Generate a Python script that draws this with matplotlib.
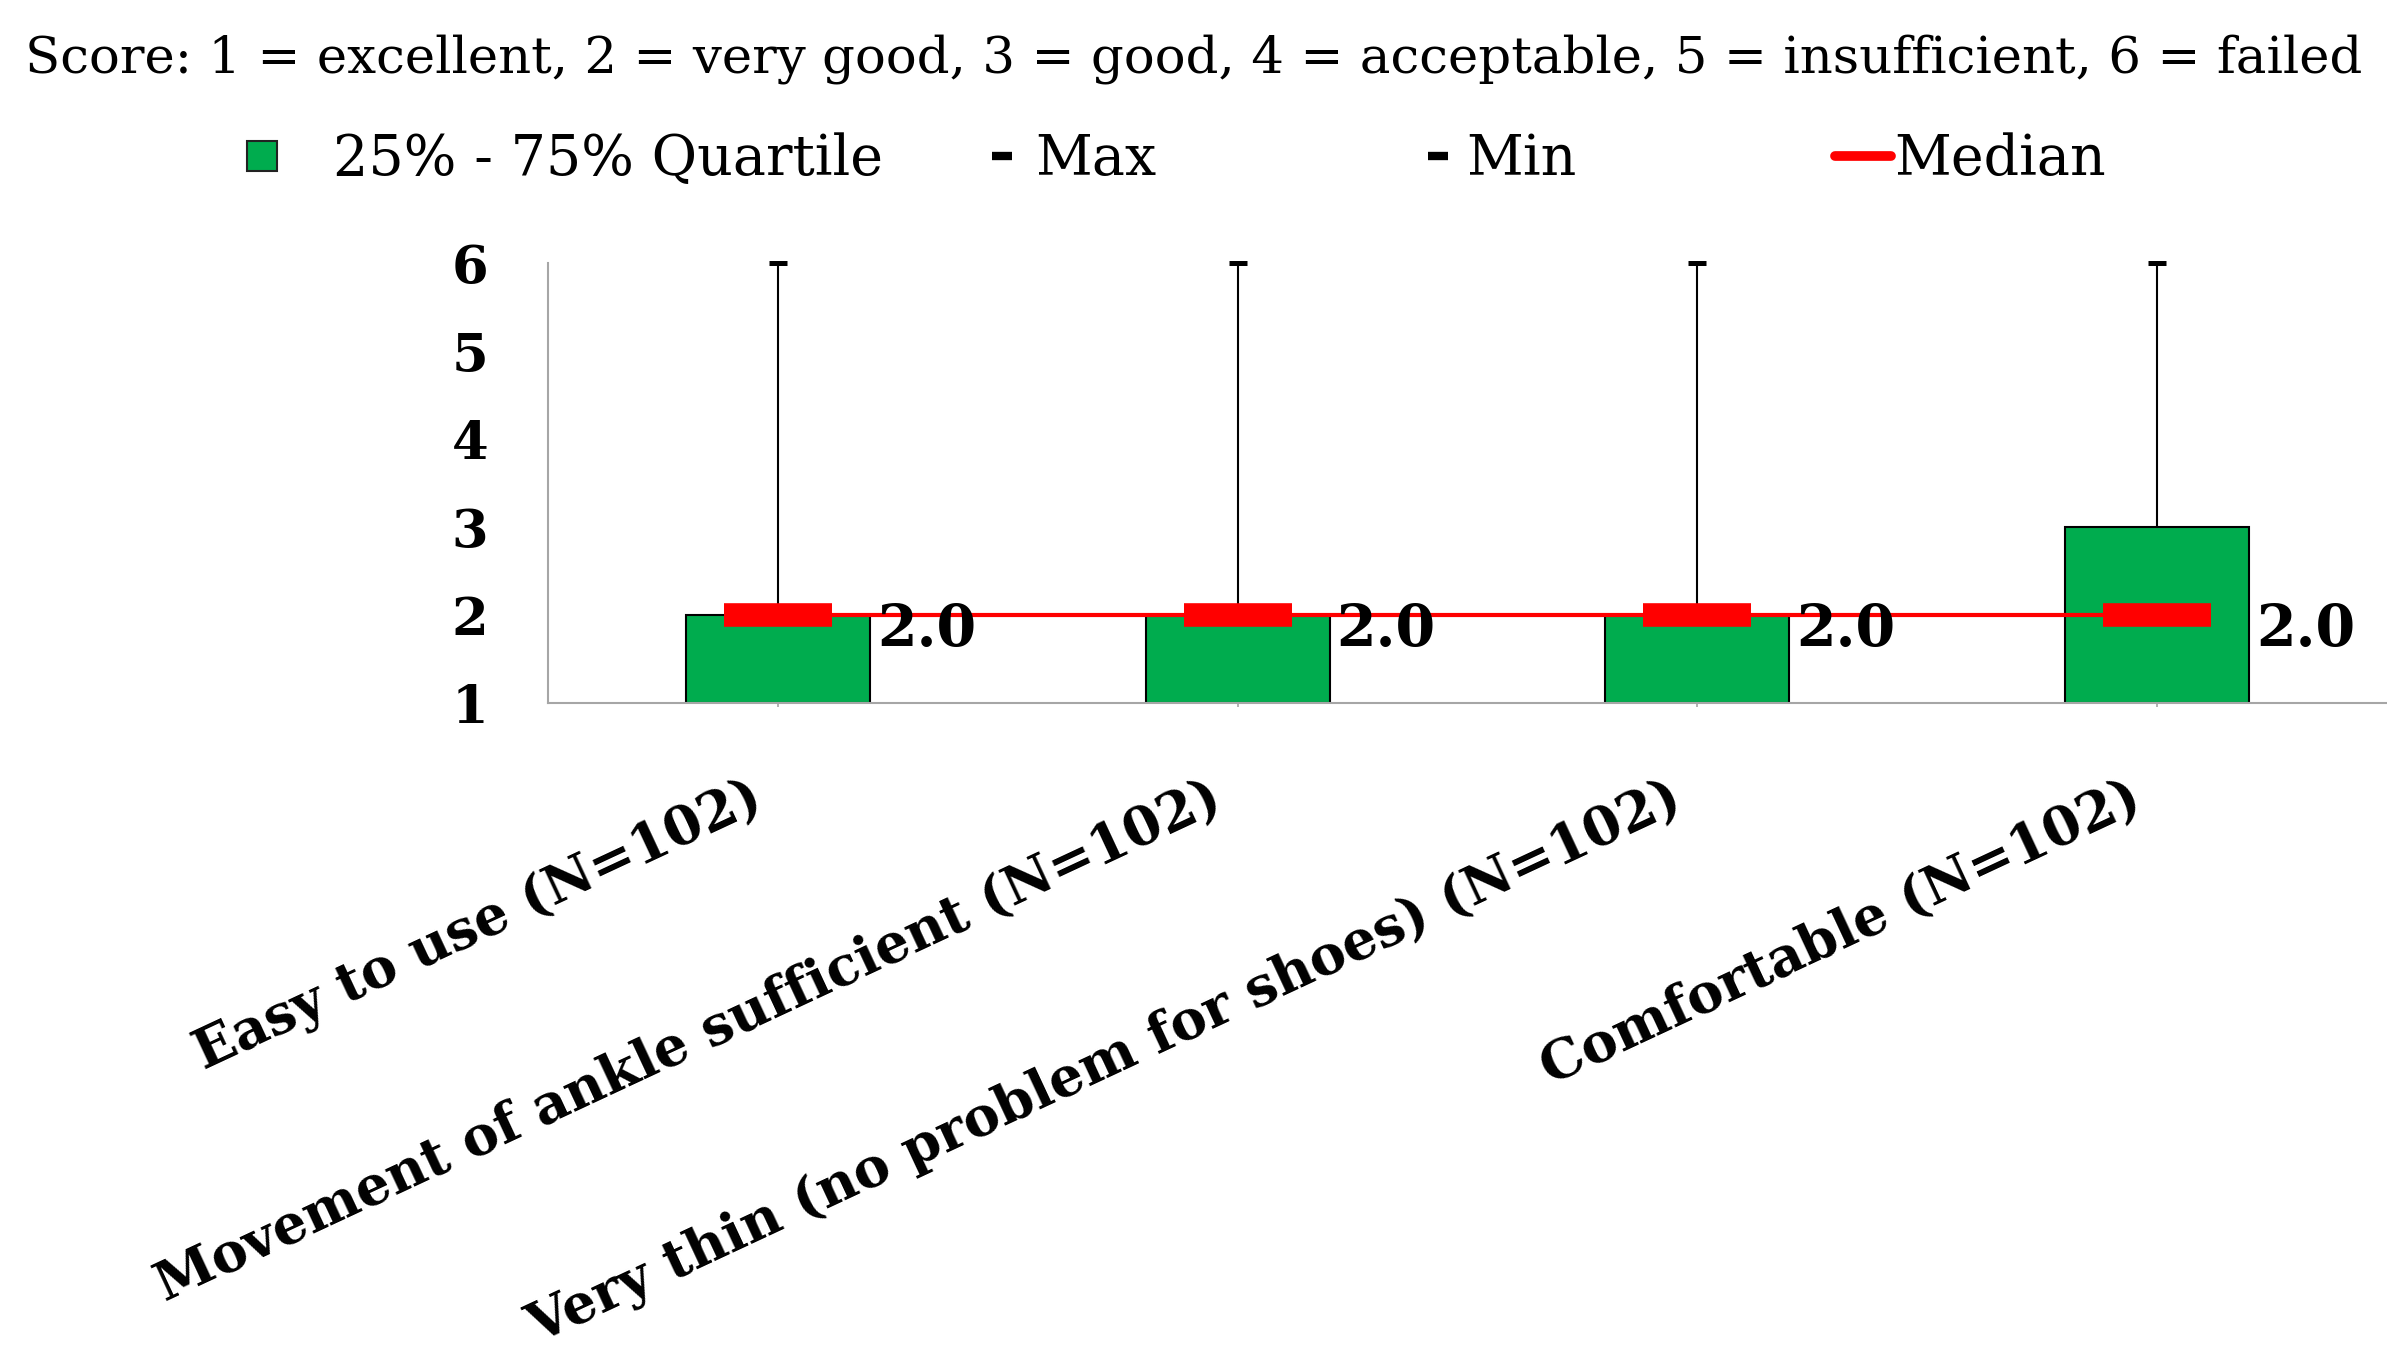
import numpy as np
import matplotlib.pyplot as plt
from matplotlib.lines import Line2D
from matplotlib.transforms import ScaledTranslation

categories = ['Easy to use (N=102)',
              'Movement of ankle sufficient (N=102)',
              'Very thin (no problem for shoes) (N=102)',
              'Comfortable (N=102)']
q1 = [1, 1, 1, 1]
q3 = [2, 2, 2, 3]
medians = [2.0, 2.0, 2.0, 2.0]
maxs = [6, 6, 6, 6]
mins = [1, 1, 1, 1]
yticks = [1, 2, 3, 4, 5, 6]
title = ('Score: 1 = excellent, 2 = very good, 3 = good, 4 = acceptable, '
         '5 = insufficient, 6 = failed')

green = '#00ac4e'
W, H = 2387, 1367

plt.rcParams['font.family'] = 'DejaVu Serif'

fig = plt.figure(figsize=(W / 100, H / 100), dpi=100)
ax = fig.add_axes([548 / W, 1 - 703 / H, 1 - 548 / W, 440 / H])
x = np.arange(len(categories))

# whiskers + caps
ax.vlines(x, q3, maxs, color='black', lw=1.5, zorder=1)
ax.vlines(x, mins, q1, color='black', lw=1.5, zorder=1)
ax.plot(x, maxs, ls='none', marker='_', ms=13, mew=3.6, color='black',
        clip_on=False, zorder=1)

# quartile boxes
ax.bar(x, np.subtract(q3, q1), bottom=q1, width=0.4, color=green,
       edgecolor='black', lw=1.5, zorder=2)

# medians
ax.plot(x, medians, color='red', lw=3, zorder=3, clip_on=False)
ax.plot(x, medians, ls='none', marker='_', ms=78, mew=17, color='red',
        zorder=4, clip_on=False)
for xi, m in zip(x, medians):
    ax.annotate(f'{m:.1f}', xy=(xi + 0.2, m), xytext=(5, -22),
                textcoords='offset points', ha='left', va='baseline',
                fontsize=41, fontweight='bold', zorder=5)

ax.set_xlim(-0.5, 3.5)
ax.set_ylim(1, 6)
ax.set_yticks(yticks)
ax.set_yticklabels([str(v) for v in yticks], fontsize=38, fontweight='bold')
ax.tick_params(axis='y', length=0, pad=43)
ax.set_xticks(x)
ax.set_xticklabels(categories, rotation=25, ha='right', va='top',
                   rotation_mode='anchor', fontsize=39, fontweight='bold')
ax.tick_params(axis='x', length=3, width=1.2, color='#a6a6a6', pad=46)
offset = ScaledTranslation(-30 / 100, 0, fig.dpi_scale_trans)
for lab in ax.get_xticklabels():
    lab.set_transform(lab.get_transform() + offset)

for s in ['top', 'right']:
    ax.spines[s].set_visible(False)
for s in ['left', 'bottom']:
    ax.spines[s].set_color('#a6a6a6')
    ax.spines[s].set_linewidth(1.5)

fig.text(0.5, 1 - 72 / H, title, ha='center', va='baseline', fontsize=37)

# legend row, one entry at a time
legend_items = [
    (Line2D([], [], ls='none', marker='s', ms=21, mfc=green, mec='#222222', mew=1.5),
     '25% - 75% Quartile', 247, 0.55, 1.0),
    (Line2D([], [], ls='none', marker='_', ms=15, mew=6, color='black'),
     'Max', 991, 0.38, 0.42),
    (Line2D([], [], ls='none', marker='_', ms=15, mew=6, color='black'),
     'Min', 1427, 0.38, 0.33),
    (Line2D([], [], color='red', lw=7, solid_capstyle='round'),
     'Median', 1835, 1.0, 0.07),
]
for handle, label, xpx, hl, tp in legend_items:
    fig.legend(handles=[handle], labels=[label], loc='center left',
               bbox_to_anchor=(xpx / W, 1 - 160 / H), frameon=False,
               fontsize=40, handlelength=hl, handletextpad=tp,
               borderpad=0, borderaxespad=0, numpoints=1)

fig.savefig('out.png', dpi=100)
